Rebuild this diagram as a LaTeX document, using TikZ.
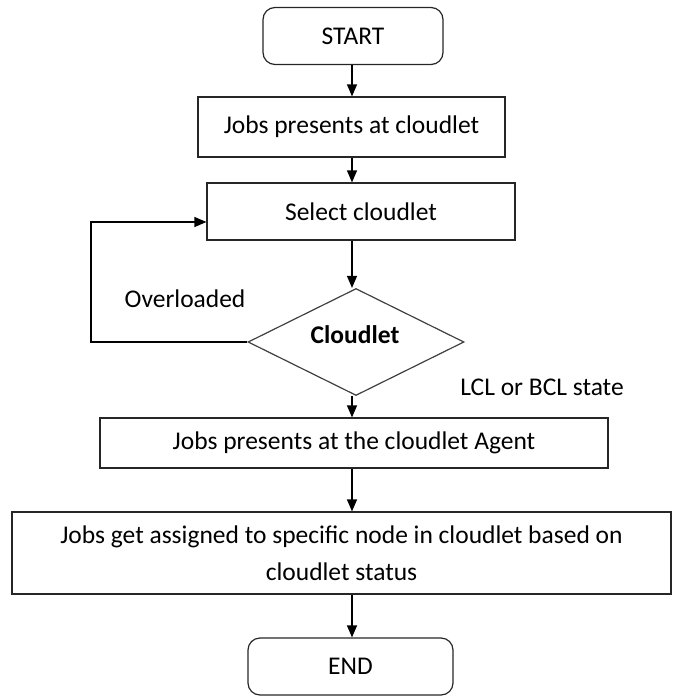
\documentclass[tikz,border=0pt]{standalone}
\usepackage{fontspec}
\setmainfont{Carlito}
\usetikzlibrary{shapes.geometric,arrows.meta}
\begin{document}
\begin{tikzpicture}[x=1pt,y=-1pt,
  every node/.style={font=\fontsize{25.5}{37}\selectfont, text=black},
  box/.style={draw=black!85, line width=1.2pt, inner sep=0pt},
  term/.style={box, rounded corners=12pt},
  arr/.style={line width=1.2pt, -{Triangle[length=12pt,width=10pt]}},
  lbl/.style={inner sep=0pt}]
\useasboundingbox (0,0) rectangle (673,699);
\coordinate (ax) at (352,0);
\node[term, minimum width=180pt, minimum height=57pt] (start) at (353,36) {START};
\node[box, minimum width=307pt, minimum height=60pt] (b2) at (351.5,127) {Jobs presents at cloudlet};
\node[box, minimum width=308pt, minimum height=57pt] (b3) at (361,211.5) {Select cloudlet};
\node[diamond, draw=black!75, line width=1.2pt, inner sep=0pt, minimum width=216pt, minimum height=107pt] (dia) at (356,342) {};
\node[lbl, font=\fontsize{25.5}{30}\selectfont\bfseries] (dtxt) at (355,335) {Cloudlet};
\node[box, minimum width=508pt, minimum height=50pt] (b4) at (354,443) {Jobs presents at the cloudlet Agent};
\node[box, minimum width=659pt, minimum height=82pt, align=center] (b5) at (341.5,553) {Jobs get assigned to specific node in cloudlet based on\\cloudlet status};
\node[term, minimum width=205pt, minimum height=57pt] (end) at (350.5,666.5) {END};
\node[lbl] (ovl) at (185,299) {Overloaded};
\node[lbl] (lcl) at (542,387) {LCL or BCL state};
\coordinate (loopc) at (91,342);
\coordinate (in3) at (0,222);
\draw[arr] (start.south -| ax) -- (b2.north -| ax);
\draw[arr] (b2.south -| ax) -- (b3.north -| ax);
\draw[arr] (b3.south -| ax) -- (dia.north -| ax);
\draw[arr] (dia.south -| ax) -- (b4.north -| ax);
\draw[arr] (b4.south -| ax) -- (b5.north -| ax);
\draw[arr] (b5.south -| ax) -- (end.north -| ax);
\draw[arr] (dia.west) -- (loopc) |- (b3.west |- in3);
\end{tikzpicture}
\end{document}
